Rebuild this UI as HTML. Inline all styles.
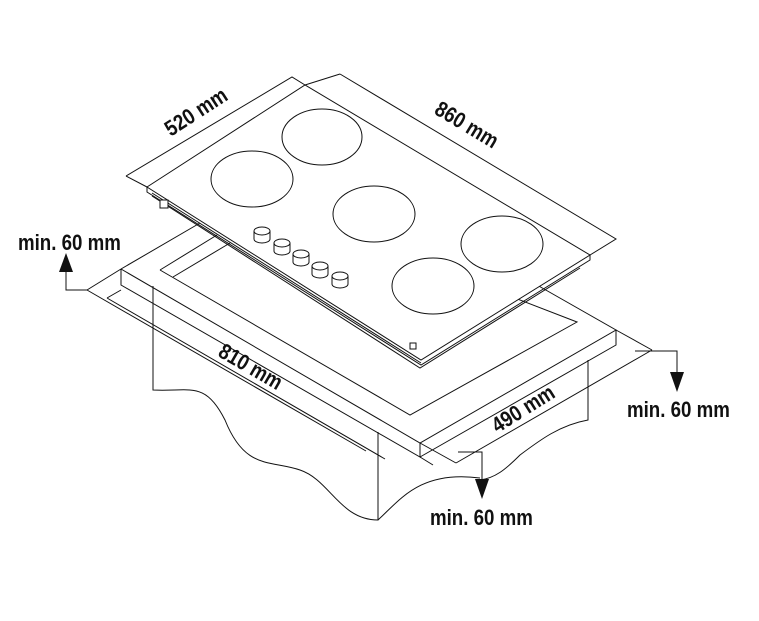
<!DOCTYPE html>
<html><head><meta charset="utf-8"><style>
html,body{margin:0;padding:0;background:#fff}
svg{display:block}
text{font-family:"Liberation Sans",sans-serif;font-weight:bold;font-size:22px;fill:#111}
</style></head><body>
<svg width="759" height="621" viewBox="0 0 759 621" xmlns="http://www.w3.org/2000/svg">
<g fill="none" stroke="#111" stroke-width="1">
<!-- cabinet body -->
<path d="M153 286 V390 C190 392 205 380 225 420 C245 470 270 460 300 470 C330 480 340 520 378 520 V432"/>
<path d="M588 360 V420 C560 425 540 440 520 455 C505 470 495 478 480 480"/>
<path d="M378 520 C400 500 420 470 480 478"/>
<!-- countertop -->
<path d="M121 269 L200 223"/>
<path d="M121 269 L420 443 L616 330 L537 285"/>
<path d="M121 269 V285 L420 457 V443 M420 457 L616 345 V330"/>
<path d="M160 270 L217 235"/>
<path d="M173 277 L230 243"/>
<path d="M160 270 L410 415 L577 322 L507 295"/>
<!-- dimension 810 -->
<path d="M87 290 L121 269 M107 298 L121 290 M87 290 L366 451 M107 298 L385 459"/>
<path d="M87 290 H66 V268"/>
<!-- dimension 490 -->
<path d="M456 463 L652 350 M420 443 L456 463 M616 330 L652 350 M433 465 L420 457"/>
<path d="M635 351 H677 V378"/>
<path d="M458 452 H482 V485"/>
<!-- hob -->
<path d="M147 187 L305 85 L590 255 L421 360 Z" fill="#fff"/>
<path d="M147 187 V192 L421 365 L590 260 V255"/>
<path d="M152 193 L421 363 M152 196 L420 368 L580 268"/>
<rect x="160" y="200" width="8" height="8" fill="#fff"/>
<rect x="410" y="343" width="6" height="6"/>
<!-- 520/860 dims -->
<path d="M126 176 L292 77 L305 85 M126 176 L147 187"/>
<path d="M340 74 L616 239 L590 255 M340 74 L305 85"/>
<!-- burners -->
<ellipse cx="252" cy="179" rx="41" ry="28"/>
<ellipse cx="322" cy="137" rx="40" ry="28"/>
<ellipse cx="374" cy="214" rx="41" ry="28"/>
<ellipse cx="502" cy="244" rx="41" ry="28"/>
<ellipse cx="433" cy="286" rx="41" ry="28"/>
</g>
<g fill="#fff" stroke="#111" stroke-width="1">
<g transform="translate(262,231)"><path d="M-8 0 V8 A8 4 0 0 0 8 8 V0"/><ellipse cx="0" cy="0" rx="8" ry="4"/></g>
<g transform="translate(282,243)"><path d="M-8 0 V8 A8 4 0 0 0 8 8 V0"/><ellipse cx="0" cy="0" rx="8" ry="4"/></g>
<g transform="translate(301,254)"><path d="M-8 0 V8 A8 4 0 0 0 8 8 V0"/><ellipse cx="0" cy="0" rx="8" ry="4"/></g>
<g transform="translate(320,266)"><path d="M-8 0 V8 A8 4 0 0 0 8 8 V0"/><ellipse cx="0" cy="0" rx="8" ry="4"/></g>
<g transform="translate(340,276)"><path d="M-8 0 V8 A8 4 0 0 0 8 8 V0"/><ellipse cx="0" cy="0" rx="8" ry="4"/></g>
</g>
<!-- arrows -->
<g fill="#111">
<path d="M66 253 L59 272 L73 272 Z"/>
<path d="M677 392 L670 372 L684 372 Z"/>
<path d="M482 499 L475 479 L489 479 Z"/>
</g>
<text transform="translate(200,118) rotate(-33) scale(0.85,1)" text-anchor="middle">520 mm</text>
<text transform="translate(463,131) rotate(31) scale(0.85,1)" text-anchor="middle">860 mm</text>
<text transform="translate(247,373) rotate(30) scale(0.85,1)" text-anchor="middle">810 mm</text>
<text transform="translate(527,415) rotate(-32) scale(0.85,1)" text-anchor="middle">490 mm</text>
<text transform="translate(18,250) scale(0.85,1)">min. 60 mm</text>
<text transform="translate(627,417) scale(0.85,1)">min. 60 mm</text>
<text transform="translate(430,525) scale(0.85,1)">min. 60 mm</text>
</svg>
</body></html>
